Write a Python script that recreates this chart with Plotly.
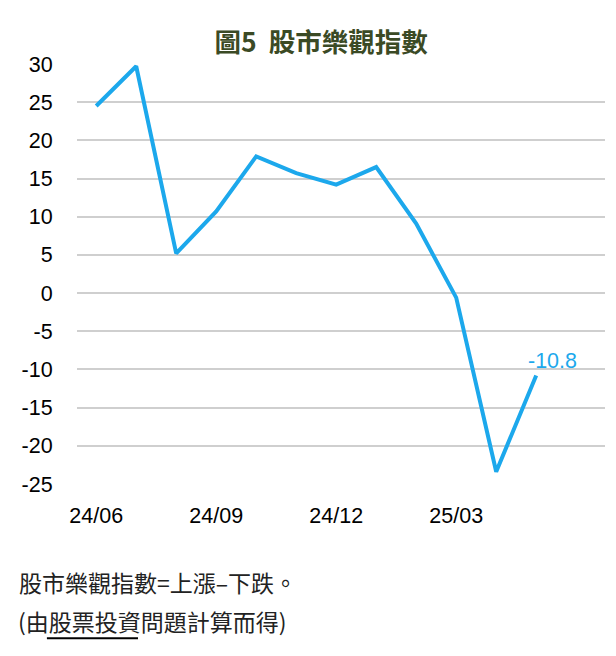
import plotly.graph_objects as go

months = ["24/06", "24/07", "24/08", "24/09", "24/10", "24/11", "24/12",
          "25/01", "25/02", "25/03", "25/04", "25/05"]
values = [24.5, 29.7, 5.2, 10.7, 17.9, 15.7, 14.2, 16.5, 9.1, -0.6, -23.4, -10.8]
tick_labels = ["24/06", "24/09", "24/12", "25/03"]
tick_idx = [months.index(t) for t in tick_labels]
y_ticks = list(range(-25, 31, 5))
y_tick_text = [str(v) for v in y_ticks]

title_text = "<b>圖5  股市樂觀指數</b>"
note_line1 = "股市樂觀指數=上漲–下跌。"
note_line2 = "(由股票投資問題計算而得)"

BLUE = "#1ca8ec"
FONT = "Liberation Sans, Arial, Noto Sans CJK TC, sans-serif"
CJK = "Noto Sans CJK TC, DejaVu Sans, sans-serif"

x_idx = list(range(len(months)))

fig = go.Figure()
fig.add_trace(go.Scatter(
    x=x_idx, y=values, mode="lines",
    line=dict(color=BLUE, width=4),
    hoverinfo="skip", showlegend=False,
))

fig.add_annotation(
    x=x_idx[-1], y=values[-1], xref="x", yref="y",
    text=f"{values[-1]:.1f}", showarrow=False,
    xshift=16, yshift=15,
    font=dict(family=FONT, size=21.5, color=BLUE),
)

fig.update_layout(
    width=608, height=648,
    paper_bgcolor="white", plot_bgcolor="white",
    margin=dict(l=69, r=11, t=56, b=172),
    title=dict(
        text=title_text,
        x=0.515, xanchor="center", y=0.947, yanchor="middle",
        font=dict(family="Noto Sans CJK TC, Liberation Sans, sans-serif", size=26.5, color="#3b4a25"),
    ),
    xaxis=dict(
        range=[-0.48, 12.72], tickmode="array", tickvals=tick_idx, ticktext=tick_labels,
        showgrid=False, zeroline=False, showline=False,
        ticks="outside", ticklen=12, tickcolor="rgba(0,0,0,0)",
        tickfont=dict(family=FONT, size=21.5, color="black"),
    ),
    yaxis=dict(
        range=[-25, 30], tickmode="array", tickvals=y_ticks, ticktext=y_tick_text,
        showgrid=True, gridcolor="#cfcfcf", gridwidth=1.5,
        zeroline=False, showline=False,
        ticks="outside", ticklen=19, tickcolor="rgba(0,0,0,0)",
        tickfont=dict(family=FONT, size=21.5, color="black"),
    ),
    showlegend=False,
)

fig.add_annotation(
    text=note_line1, xref="paper", yref="paper",
    x=-0.114, y=-0.233, xanchor="left", yanchor="middle", showarrow=False,
    font=dict(family=CJK, size=23, color="#222222"),
)
fig.add_annotation(
    text=note_line2, xref="paper", yref="paper",
    x=-0.116, y=-0.327, xanchor="left", yanchor="middle", showarrow=False,
    font=dict(family=CJK, size=23, color="#222222"),
)
fig.add_shape(
    type="line", xref="paper", yref="paper",
    x0=-0.057, x1=0.1155, y0=-0.367, y1=-0.367,
    line=dict(color="black", width=2),
)

fig.write_html("out.html")
